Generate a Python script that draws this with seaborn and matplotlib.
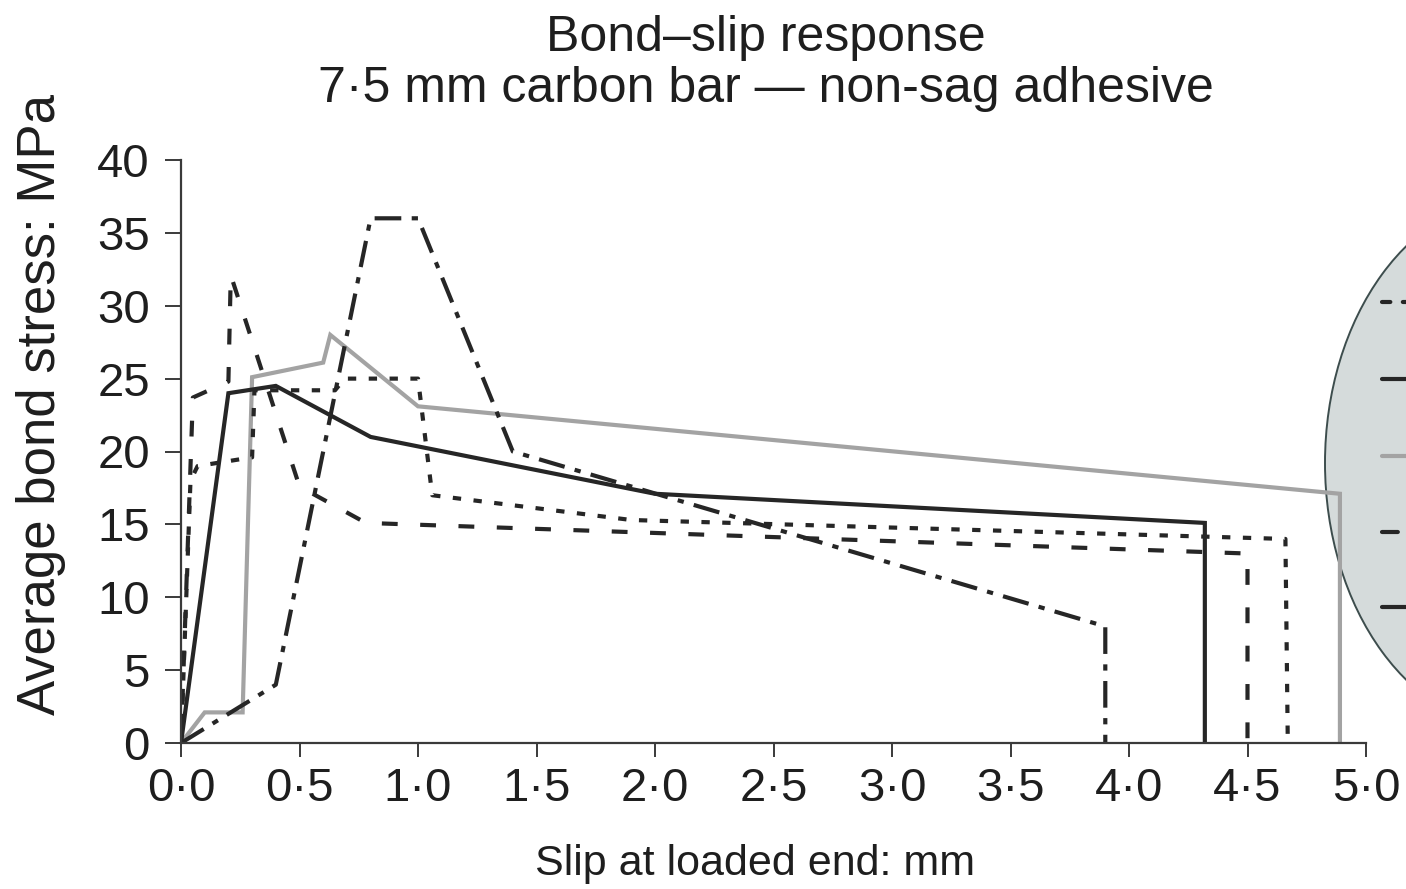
import matplotlib
matplotlib.use("Agg")
import matplotlib.pyplot as plt
from matplotlib.patches import Ellipse
from matplotlib.lines import Line2D
from matplotlib.transforms import IdentityTransform
import seaborn as sns
import pandas as pd

# ---- data ----
s1_x = [0.0, 0.04, 0.07, 0.30, 0.31, 0.65, 0.69, 1.00, 1.06, 1.90, 4.66, 4.67]
s1_y = [0.0, 18.0, 19.0, 19.6, 24.2, 24.2, 25.0, 25.0, 17.0, 15.3, 14.0, 0.0]

s2_x = [0.0, 0.20, 0.40, 0.80, 2.00, 4.32, 4.32]
s2_y = [0.0, 24.0, 24.5, 21.0, 17.1, 15.1, 0.0]

s3_x = [0.0, 0.10, 0.26, 0.30, 0.60, 0.63, 1.00, 4.89, 4.89]
s3_y = [0.0, 2.1, 2.1, 25.1, 26.1, 28.0, 23.1, 17.1, 0.0]

s4_x = [0.0, 0.05, 0.20, 0.21, 0.50, 0.78, 4.50, 4.50]
s4_y = [0.0, 23.7, 24.8, 32.1, 17.6, 15.1, 13.0, 0.0]

s5_x = [0.0, 0.40, 0.80, 1.00, 1.40, 3.90, 3.90]
s5_y = [0.0, 4.0, 36.0, 36.0, 20.0, 8.0, 0.0]

x_ticks = [0.0, 0.5, 1.0, 1.5, 2.0, 2.5, 3.0, 3.5, 4.0, 4.5, 5.0]
x_tick_labels = ["0·0", "0·5", "1·0", "1·5", "2·0", "2·5", "3·0", "3·5", "4·0", "4·5", "5·0"]
y_ticks = [0, 5, 10, 15, 20, 25, 30, 35, 40]
y_tick_labels = ["0", "5", "10", "15", "20", "25", "30", "35", "40"]

title = "Bond–slip response\n7·5 mm carbon bar — non-sag adhesive"
x_label = "Slip at loaded end: mm"
y_label = "Average bond stress: MPa"

# ---- style ----
sns.set_theme(style="white")
plt.rcParams["font.family"] = ["Liberation Sans", "DejaVu Sans"]

DARK = "#262626"
GRAY = "#a3a3a3"
TXT = "#1e1e1e"
LW = 3.0
styles = [
    dict(color=DARK, ls=(0, (2.0, 3.0))),
    dict(color=DARK, ls="-"),
    dict(color=GRAY, ls="-"),
    dict(color=DARK, ls=(0, (3.8, 5.4))),
    dict(color=DARK, ls=(0, (6.4, 2.5, 1.5, 2.5))),
]
series = [(s1_x, s1_y), (s2_x, s2_y), (s3_x, s3_y), (s4_x, s4_y), (s5_x, s5_y)]

fig = plt.figure(figsize=(14.06, 8.89), dpi=100)
ax = fig.add_axes([181 / 1406, 1 - 743 / 889, (1366 - 181) / 1406, (743 - 160) / 889])
ax.patch.set_alpha(0)
ax.set_zorder(1)

draw_order = [2, 0, 3, 4, 1]
for i in draw_order:
    xs, ys = series[i]
    df = pd.DataFrame({"x": xs, "y": ys})
    sns.lineplot(data=df, x="x", y="y", sort=False, estimator=None, ax=ax,
                 color=styles[i]["color"], linestyle=styles[i]["ls"], linewidth=LW,
                 solid_joinstyle="miter", dash_capstyle="butt")

ax.set_xlim(0, 5.0)
ax.set_ylim(0, 40)
ax.set_xticks(x_ticks)
ax.set_xticklabels(x_tick_labels)
ax.set_yticks(y_ticks)
ax.set_yticklabels(y_tick_labels)

for side in ["top", "right"]:
    ax.spines[side].set_visible(False)
for side in ["left", "bottom"]:
    ax.spines[side].set_color("#3a3a3a")
    ax.spines[side].set_linewidth(1.6)

ax.tick_params(axis="y", direction="out", length=11.5, width=1.4, color="#3a3a3a",
               labelsize=34, pad=11, left=True, labelcolor=TXT)
ax.tick_params(axis="x", direction="out", length=10, width=1.4, color="#3a3a3a",
               labelsize=34, pad=7, bottom=True, labelcolor=TXT)

ax.set_xlabel(x_label, fontsize=31, color=TXT)
ax.xaxis.set_label_coords((755 - 181) / 1185, (743 - 844) / 583)
ax.set_ylabel(y_label, fontsize=38, color=TXT)
ax.yaxis.set_label_coords(-0.097, 0.58)
ax.set_title(title, fontsize=36, color=TXT, pad=42, linespacing=1.14,
             x=(766 - 181) / 1185)

# ---- legend bubble (cut off by the right edge, as in the reference) ----
ell = Ellipse((1520, 889 - 463), 390, 534, facecolor="#d5dbdb", edgecolor="#3d4d4d",
              linewidth=1.4, transform=IdentityTransform(), zorder=0)
fig.add_artist(ell)
legend_rows = [302, 379, 456, 532, 607]
for i, yy in enumerate(legend_rows):
    ln = Line2D([1382, 1470], [889 - yy, 889 - yy], color=styles[i]["color"],
                linestyle=styles[i]["ls"], linewidth=LW, transform=IdentityTransform(),
                zorder=0.5, solid_capstyle="round", dash_capstyle="round")
    fig.add_artist(ln)

fig.savefig("out.png", dpi=100)
